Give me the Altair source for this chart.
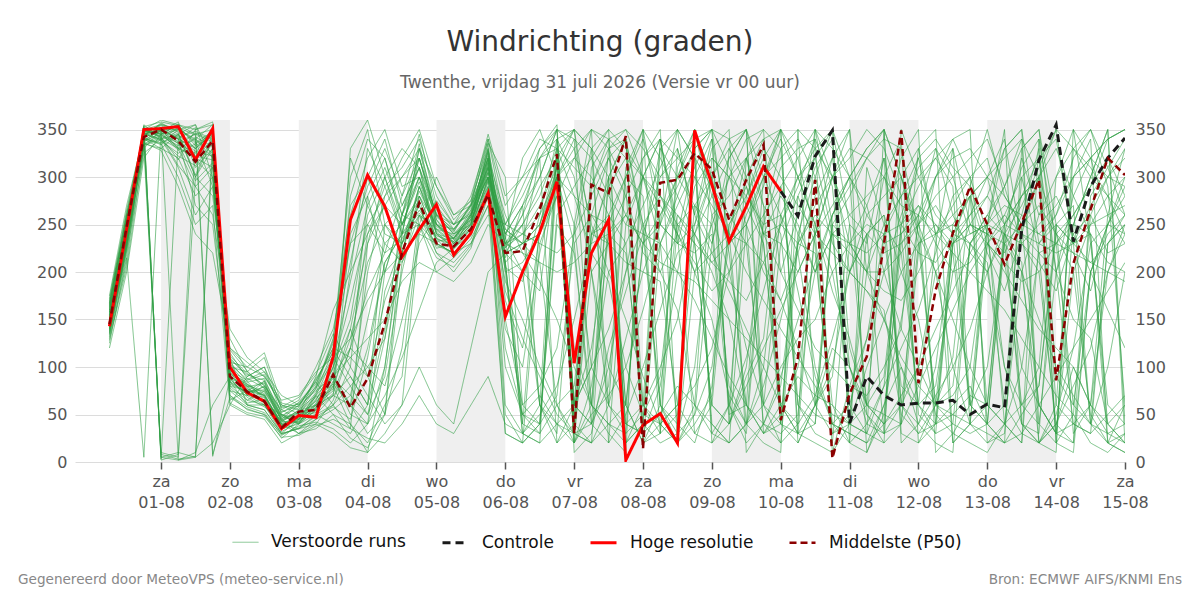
import altair as alt
import pandas as pd

# Tijdas: 6-uurlijkse stappen vanaf vrijdag 31-07 06 uur
starttijd = "2026-07-31 06:00"
stappen = 60
tijden = pd.date_range(starttijd, periods=stappen, freq="6h").strftime("%Y-%m-%dT%H:%M:%S").tolist()

# Hoge resolutie run (loopt tot 10-08 00 uur)
hoge_resolutie = [143, 245, 350, 351, 353, 318, 351, 100, 73, 64,
                  35, 49, 47, 111, 255, 302, 269, 216, 245, 271,
                  218, 241, 283, 153, 200, 242, 295, 104, 220, 255,
                  2, 39, 51, 20, 349, 292, 232, 269, 311, 285]

# Controlerun, vanaf 10-08 00 uur (daarvoor gelijk aan de hoge resolutie)
controle_start = 39
controle = [285, 259, 322, 349, 41, 90, 70, 60, 62, 62,
            65, 50, 61, 57, 245, 318, 355, 232, 290, 320, 341]

# Mediaan van de pluim
middelste = [145, 248, 342, 350, 338, 316, 338, 90, 74, 64,
             36, 53, 55, 92, 57, 88, 146, 220, 273, 230,
             227, 245, 281, 220, 222, 266, 324, 30, 292, 283,
             343, 14, 294, 297, 325, 308, 255, 297, 334, 44,
             110, 297, 4, 72, 111, 230, 349, 83, 181, 241,
             290, 250, 208, 252, 297, 86, 209, 266, 320, 302]

# Verstoorde runs (ensembleleden)
leden = [
    [150, 240, 345, 350, 340, 330, 345, 95, 80, 70, 40, 45, 60, 95, 140, 230, 270, 250, 300, 260,
     240, 260, 310, 220, 250, 280, 330, 60, 40, 300, 340, 20, 60, 310, 350, 280, 240, 320, 340, 200,
     260, 310, 340, 120, 60, 40, 300, 330, 240, 250, 280, 220, 180, 240, 300, 350, 230, 270, 300, 320],
    [155, 250, 350, 355, 345, 300, 330, 100, 70, 60, 35, 50, 55, 70, 60, 120, 210, 240, 330, 250,
     230, 250, 330, 200, 40, 30, 60, 80, 240, 250, 300, 280, 30, 50, 240, 300, 60, 20, 40, 30,
     50, 240, 300, 350, 200, 150, 100, 60, 80, 200, 250, 240, 220, 260, 330, 20, 10, 200, 250, 280],
    [140, 230, 340, 5, 10, 5, 20, 60, 90, 100, 50, 40, 70, 110, 80, 50, 130, 220, 290, 240,
     235, 260, 300, 240, 270, 300, 350, 10, 30, 120, 180, 240, 300, 330, 260, 220, 180, 140, 100, 60,
     30, 20, 10, 80, 130, 200, 260, 310, 330, 260, 220, 200, 250, 310, 340, 90, 60, 40, 30, 20],
    [165, 260, 335, 330, 320, 280, 300, 110, 60, 55, 30, 35, 45, 60, 100, 280, 320, 260, 250, 230,
     220, 240, 290, 210, 230, 250, 300, 330, 350, 340, 320, 300, 280, 240, 200, 150, 70, 40, 20, 10,
     350, 330, 300, 260, 240, 220, 230, 250, 270, 240, 230, 210, 60, 30, 20, 10, 350, 320, 300, 290],
    [130, 210, 350, 345, 355, 350, 355, 80, 75, 85, 45, 30, 35, 50, 40, 20, 60, 90, 250, 300,
     260, 270, 320, 150, 60, 80, 120, 240, 330, 350, 20, 60, 100, 150, 250, 330, 350, 10, 40, 90,
     150, 210, 260, 290, 320, 350, 20, 40, 70, 100, 140, 200, 240, 230, 250, 270, 300, 340, 20, 30],
    [160, 245, 355, 340, 310, 260, 290, 120, 100, 90, 60, 55, 80, 130, 270, 300, 240, 230, 260, 220,
     210, 230, 270, 30, 20, 40, 300, 280, 220, 190, 100, 50, 40, 60, 80, 120, 200, 260, 300, 340,
     300, 250, 200, 100, 40, 30, 60, 100, 200, 230, 240, 250, 240, 200, 150, 100, 70, 40, 100, 200],
    [145, 235, 330, 350, 350, 340, 320, 70, 55, 50, 25, 40, 50, 40, 30, 60, 250, 270, 310, 230,
     220, 240, 280, 230, 240, 260, 340, 300, 200, 60, 40, 30, 80, 200, 290, 320, 300, 280, 250, 260,
     180, 90, 40, 30, 20, 60, 150, 250, 300, 320, 330, 300, 280, 250, 240, 260, 300, 320, 340, 350],
    [170, 265, 345, 10, 5, 300, 340, 90, 65, 75, 45, 60, 85, 120, 110, 90, 170, 220, 280, 250,
     245, 270, 320, 260, 220, 190, 150, 100, 60, 30, 10, 350, 320, 280, 240, 210, 230, 250, 300, 350,
     30, 60, 100, 200, 260, 280, 300, 250, 200, 150, 100, 60, 40, 60, 100, 300, 330, 350, 310, 260],
    [120, 200, 320, 345, 330, 320, 310, 105, 85, 65, 40, 35, 40, 65, 120, 240, 290, 310, 340, 280,
     250, 260, 300, 100, 50, 70, 40, 20, 50, 70, 100, 160, 230, 280, 330, 350, 310, 270, 230, 60,
     40, 70, 130, 200, 240, 260, 200, 150, 50, 30, 20, 10, 40, 200, 260, 280, 240, 200, 160, 120],
    [150, 240, 350, 360, 355, 345, 350, 85, 60, 60, 35, 40, 55, 85, 60, 30, 50, 240, 320, 260,
     240, 250, 310, 230, 250, 290, 320, 60, 290, 330, 350, 300, 250, 230, 300, 340, 50, 60, 300, 320,
     340, 300, 230, 200, 180, 160, 50, 30, 60, 230, 250, 240, 230, 200, 60, 30, 200, 250, 280, 300],
    [135, 225, 340, 335, 300, 250, 270, 60, 50, 45, 20, 30, 40, 30, 15, 10, 30, 60, 100, 60,
     40, 120, 200, 220, 230, 240, 300, 340, 320, 280, 250, 240, 230, 200, 170, 130, 90, 60, 30, 50,
     100, 200, 240, 230, 220, 240, 280, 320, 340, 310, 290, 230, 200, 170, 140, 120, 100, 60, 40, 20],
    [158, 255, 348, 352, 340, 320, 340, 95, 70, 80, 50, 45, 65, 100, 150, 260, 300, 240, 270, 225,
     230, 255, 335, 200, 210, 240, 310, 250, 100, 60, 300, 340, 280, 250, 230, 60, 40, 100, 250, 310,
     330, 340, 290, 100, 50, 20, 350, 300, 260, 240, 60, 100, 230, 250, 270, 240, 220, 180, 250, 290],
    [175, 270, 345, 340, 330, 290, 260, 140, 110, 95, 70, 60, 75, 90, 120, 100, 80, 150, 230, 260,
     250, 280, 340, 250, 280, 320, 350, 40, 20, 60, 130, 200, 250, 300, 340, 20, 60, 110, 180, 250,
     290, 340, 10, 40, 100, 150, 200, 230, 240, 260, 280, 300, 320, 340, 20, 40, 80, 120, 200, 240],
    [125, 215, 5, 350, 330, 340, 355, 75, 60, 55, 30, 45, 50, 70, 90, 60, 200, 260, 300, 240,
     225, 245, 315, 210, 30, 50, 80, 150, 230, 300, 340, 60, 40, 20, 50, 100, 230, 300, 340, 350,
     320, 240, 60, 20, 40, 80, 120, 160, 220, 280, 300, 240, 100, 40, 20, 50, 120, 230, 250, 240],
    [148, 238, 342, 348, 358, 310, 330, 110, 90, 100, 60, 50, 90, 160, 200, 240, 270, 300, 320, 250,
     235, 265, 300, 240, 230, 210, 60, 30, 40, 100, 200, 300, 340, 320, 300, 270, 240, 200, 170, 140,
     110, 80, 50, 40, 60, 90, 250, 290, 320, 340, 350, 20, 40, 100, 220, 230, 260, 290, 340, 350],
    [162, 250, 338, 345, 350, 355, 300, 65, 75, 70, 40, 30, 45, 55, 70, 150, 230, 210, 250, 200,
     215, 235, 270, 140, 100, 220, 300, 320, 300, 260, 230, 270, 310, 350, 320, 290, 260, 230, 210, 170,
     120, 60, 30, 50, 200, 250, 280, 300, 320, 290, 40, 20, 30, 250, 300, 330, 280, 240, 210, 200],
    [138, 228, 352, 5, 2, 10, 60, 90, 80, 60, 50, 40, 60, 80, 40, 10, 100, 240, 330, 290,
     255, 275, 330, 180, 130, 90, 50, 30, 20, 40, 60, 230, 260, 290, 330, 350, 340, 300, 240, 230,
     200, 240, 300, 330, 320, 300, 270, 260, 240, 220, 200, 180, 160, 130, 100, 70, 50, 20, 10, 30],
    [152, 242, 346, 338, 325, 335, 345, 100, 95, 110, 55, 65, 100, 140, 230, 290, 330, 280, 345, 270,
     245, 265, 325, 225, 260, 330, 350, 340, 60, 40, 30, 50, 90, 260, 240, 200, 150, 60, 30, 40,
     280, 320, 350, 300, 260, 230, 240, 60, 30, 40, 230, 260, 290, 330, 350, 250, 230, 210, 230, 250],
    [142, 232, 336, 328, 290, 240, 220, 120, 105, 90, 65, 70, 95, 110, 130, 170, 200, 220, 240, 230,
     220, 230, 260, 250, 240, 230, 220, 240, 280, 320, 340, 250, 200, 160, 60, 40, 20, 40, 80, 150,
     230, 260, 240, 220, 200, 180, 170, 200, 240, 270, 300, 320, 250, 240, 230, 220, 230, 250, 260, 270],
    [168, 258, 344, 356, 348, 330, 350, 80, 65, 60, 30, 35, 50, 60, 80, 100, 130, 260, 310, 255,
     230, 245, 300, 215, 270, 320, 340, 50, 310, 340, 20, 40, 330, 300, 270, 250, 300, 340, 350, 330,
     60, 40, 250, 280, 320, 340, 330, 240, 200, 100, 40, 60, 240, 270, 310, 350, 330, 310, 280, 240],
    [132, 218, 325, 340, 345, 300, 280, 130, 95, 80, 55, 45, 70, 90, 110, 130, 150, 190, 210, 200,
     190, 210, 250, 230, 220, 210, 200, 210, 230, 240, 260, 230, 210, 200, 190, 170, 150, 130, 110, 90,
     70, 50, 40, 30, 20, 40, 70, 100, 140, 180, 220, 250, 270, 260, 240, 230, 220, 210, 200, 190],
    [155, 248, 350, 342, 312, 290, 310, 75, 70, 85, 35, 50, 60, 75, 330, 360, 300, 250, 280, 235,
     228, 250, 305, 250, 290, 330, 355, 20, 60, 240, 280, 320, 350, 20, 40, 70, 330, 350, 300, 260,
     220, 100, 40, 60, 130, 240, 320, 350, 10, 30, 60, 250, 290, 340, 300, 240, 200, 50, 20, 10],
    [146, 236, 347, 354, 342, 348, 340, 85, 72, 68, 42, 55, 70, 50, 25, 15, 50, 120, 260, 245,
     240, 255, 290, 50, 20, 40, 70, 230, 260, 250, 40, 30, 50, 80, 60, 30, 20, 40, 60, 100,
     130, 150, 200, 230, 250, 240, 80, 60, 40, 50, 70, 60, 250, 280, 300, 60, 40, 30, 50, 70],
    [160, 252, 340, 330, 345, 355, 320, 115, 88, 78, 48, 42, 58, 100, 170, 250, 280, 300, 330, 265,
     250, 270, 340, 270, 300, 340, 330, 310, 290, 340, 350, 330, 300, 320, 340, 350, 40, 80, 120, 160,
     200, 240, 270, 300, 330, 350, 30, 20, 40, 60, 80, 40, 20, 30, 60, 90, 120, 150, 180, 210],
    [128, 205, 330, 8, 3, 6, 340, 70, 58, 52, 28, 38, 42, 35, 20, 40, 180, 230, 270, 220,
     200, 225, 280, 220, 200, 180, 320, 20, 80, 200, 230, 40, 20, 30, 100, 260, 280, 320, 270, 40,
     20, 60, 120, 100, 60, 40, 60, 230, 250, 230, 250, 280, 330, 350, 40, 20, 330, 300, 280, 260],
    [150, 244, 352, 348, 335, 325, 352, 92, 82, 72, 38, 48, 52, 80, 130, 210, 250, 230, 290, 250,
     238, 258, 318, 235, 200, 60, 40, 30, 200, 230, 260, 300, 340, 250, 200, 220, 240, 230, 60, 20,
     40, 350, 330, 300, 270, 200, 140, 100, 60, 40, 30, 40, 60, 300, 320, 200, 150, 130, 40, 20],
    [172, 262, 349, 345, 356, 318, 300, 105, 100, 115, 62, 58, 88, 115, 260, 320, 350, 290, 300, 245,
     232, 262, 328, 245, 230, 240, 280, 320, 350, 20, 50, 100, 160, 220, 240, 280, 320, 350, 30, 60,
     90, 70, 60, 40, 30, 20, 40, 80, 120, 160, 200, 230, 210, 100, 60, 30, 20, 280, 310, 340],
    [140, 230, 338, 350, 340, 270, 250, 98, 78, 62, 32, 42, 62, 90, 50, 40, 70, 110, 160, 210,
     225, 240, 300, 120, 50, 30, 320, 350, 330, 300, 60, 20, 40, 60, 270, 300, 330, 290, 240, 200,
     160, 120, 100, 80, 70, 100, 140, 330, 350, 20, 40, 230, 260, 240, 220, 200, 250, 300, 350, 20],
    [157, 247, 344, 352, 352, 336, 348, 88, 68, 58, 44, 52, 78, 105, 190, 270, 310, 260, 320, 260,
     245, 268, 310, 205, 190, 260, 300, 60, 40, 80, 310, 350, 250, 230, 220, 240, 60, 30, 240, 280,
     250, 200, 240, 260, 280, 300, 250, 220, 210, 240, 260, 300, 340, 230, 210, 180, 240, 260, 220, 230],
    [134, 222, 334, 342, 318, 350, 358, 62, 52, 48, 26, 28, 38, 45, 35, 25, 20, 40, 70, 40,
     30, 60, 90, 40, 30, 20, 40, 60, 100, 140, 200, 250, 280, 260, 230, 210, 190, 170, 210, 250,
     300, 330, 350, 20, 10, 60, 100, 40, 20, 10, 230, 260, 240, 210, 20, 40, 100, 60, 30, 40],
    [147, 240, 348, 346, 328, 342, 332, 108, 92, 86, 52, 62, 82, 125, 210, 300, 340, 270, 310, 240,
     226, 248, 296, 230, 260, 300, 350, 330, 250, 200, 150, 90, 40, 20, 60, 320, 300, 250, 200, 170,
     220, 280, 320, 350, 10, 50, 230, 260, 300, 330, 250, 230, 210, 190, 200, 230, 250, 240, 20, 10],
    [163, 254, 341, 334, 350, 322, 318, 78, 62, 66, 36, 46, 66, 88, 70, 50, 90, 200, 280, 235,
     215, 242, 285, 190, 150, 100, 60, 20, 240, 290, 320, 250, 60, 40, 20, 80, 250, 280, 330, 300,
     270, 240, 220, 200, 180, 150, 110, 80, 60, 50, 40, 30, 20, 50, 80, 240, 260, 290, 320, 280],
    [137, 226, 343, 357, 347, 302, 345, 96, 86, 92, 58, 68, 92, 135, 100, 70, 40, 60, 240, 275,
     250, 262, 312, 240, 270, 60, 20, 40, 260, 320, 280, 220, 200, 240, 320, 30, 60, 280, 320, 350,
     300, 250, 180, 130, 60, 240, 250, 270, 230, 200, 210, 240, 260, 300, 220, 30, 40, 60, 200, 250],
    [153, 246, 354, 2, 8, 340, 325, 82, 74, 76, 46, 52, 68, 82, 60, 200, 280, 320, 350, 290,
     260, 275, 345, 280, 300, 320, 330, 280, 260, 230, 210, 200, 190, 60, 30, 20, 40, 90, 130, 290,
     320, 350, 300, 230, 200, 200, 220, 250, 280, 300, 320, 340, 290, 230, 200, 40, 20, 200, 250, 300],
    [144, 234, 339, 349, 337, 345, 337, 90, 77, 71, 41, 47, 57, 72, 120, 180, 220, 235, 265, 238,
     232, 252, 308, 210, 50, 40, 260, 290, 320, 350, 330, 300, 270, 240, 210, 180, 200, 230, 260, 290,
     240, 200, 260, 300, 330, 350, 300, 240, 60, 80, 230, 200, 100, 60, 40, 200, 280, 320, 340, 350],
    [166, 256, 347, 339, 322, 312, 335, 102, 82, 68, 38, 44, 72, 98, 280, 340, 320, 250, 275, 232,
     236, 256, 322, 226, 240, 270, 310, 120, 60, 40, 20, 40, 260, 300, 350, 300, 220, 60, 40, 80,
     230, 270, 300, 320, 350, 330, 280, 50, 30, 230, 260, 280, 250, 40, 20, 60, 300, 320, 260, 230],
    [158, 244, 351, 3, 340, 352, 6, 88, 79, 83, 43, 51, 73, 118, 90, 60, 140, 250, 300, 250,
     234, 252, 318, 170, 120, 240, 300, 30, 20, 260, 300, 350, 60, 20, 200, 250, 80, 40, 100, 260,
     300, 320, 240, 60, 30, 80, 240, 270, 250, 220, 60, 40, 230, 280, 300, 20, 50, 260, 300, 330],
    [149, 239, 345, 355, 351, 338, 290, 118, 96, 77, 49, 57, 77, 128, 300, 350, 250, 220, 290, 242,
     226, 260, 327, 60, 30, 20, 330, 350, 200, 100, 60, 230, 250, 350, 320, 40, 20, 250, 290, 350,
     20, 60, 250, 230, 200, 300, 340, 20, 60, 110, 280, 300, 230, 60, 80, 250, 230, 40, 20, 60],
    [139, 229, 337, 347, 331, 321, 347, 93, 84, 88, 47, 63, 84, 60, 35, 230, 300, 330, 310, 262,
     243, 270, 305, 220, 230, 320, 20, 60, 120, 240, 220, 60, 30, 250, 270, 230, 320, 350, 270, 240,
     60, 30, 20, 230, 270, 320, 60, 40, 100, 240, 280, 60, 40, 20, 230, 260, 320, 350, 290, 60],
    [167, 259, 343, 351, 2, 5, 330, 87, 71, 63, 39, 49, 64, 77, 140, 90, 50, 210, 260, 228,
     220, 238, 295, 235, 320, 350, 300, 230, 40, 20, 250, 300, 230, 40, 350, 260, 200, 120, 60, 40,
     240, 300, 350, 250, 60, 50, 40, 220, 300, 340, 300, 40, 20, 330, 350, 200, 40, 30, 230, 250],
    [143, 233, 341, 336, 344, 330, 346, 97, 81, 74, 44, 54, 60, 70, 240, 280, 200, 260, 335, 255,
     235, 258, 320, 240, 40, 250, 310, 350, 330, 60, 30, 320, 340, 240, 30, 60, 250, 290, 230, 40,
     30, 250, 320, 200, 240, 30, 40, 260, 330, 300, 240, 250, 40, 20, 340, 230, 60, 200, 240, 260],
    [151, 243, 349, 343, 333, 346, 339, 91, 76, 70, 37, 43, 56, 92, 60, 40, 100, 230, 285, 248,
     236, 254, 304, 228, 250, 60, 30, 250, 350, 330, 290, 20, 30, 330, 260, 340, 240, 40, 260, 330,
     350, 60, 90, 250, 230, 320, 240, 260, 40, 230, 290, 350, 280, 250, 60, 30, 250, 300, 350, 40],
    [136, 224, 333, 340, 352, 344, 8, 68, 56, 50, 29, 36, 48, 58, 45, 110, 210, 240, 250, 215,
     205, 228, 288, 30, 20, 230, 280, 60, 100, 330, 340, 240, 60, 30, 50, 230, 300, 320, 350, 60,
     30, 40, 260, 300, 50, 30, 250, 320, 240, 20, 40, 250, 330, 350, 230, 250, 30, 60, 260, 330],
    [164, 257, 346, 349, 341, 327, 322, 112, 93, 81, 53, 59, 86, 120, 230, 250, 220, 280, 320, 258,
     242, 272, 336, 300, 60, 40, 250, 220, 60, 300, 260, 230, 330, 350, 230, 60, 40, 320, 240, 250,
     230, 220, 40, 20, 310, 250, 220, 60, 230, 330, 60, 40, 240, 320, 260, 300, 350, 230, 60, 40],
    [141, 231, 335, 344, 336, 296, 315, 84, 73, 79, 43, 41, 54, 83, 200, 330, 290, 240, 262, 236,
     224, 246, 298, 245, 230, 250, 320, 40, 240, 260, 60, 20, 230, 270, 310, 350, 230, 250, 40, 20,
     230, 350, 250, 40, 30, 350, 300, 230, 60, 70, 100, 230, 250, 280, 320, 340, 230, 240, 40, 60],
    [154, 247, 353, 358, 354, 333, 343, 103, 87, 95, 57, 61, 79, 110, 320, 270, 230, 250, 295, 244,
     230, 250, 315, 210, 30, 60, 340, 350, 240, 230, 40, 60, 340, 230, 250, 300, 340, 350, 60, 230,
     280, 230, 30, 40, 240, 260, 60, 30, 40, 250, 230, 250, 350, 40, 30, 250, 270, 40, 230, 260],
]

# Om de dag een grijze achtergrondband
band_begin = ["2026-08-01T00:00:00", "2026-08-03T00:00:00", "2026-08-05T00:00:00", "2026-08-07T00:00:00",
              "2026-08-09T00:00:00", "2026-08-11T00:00:00", "2026-08-13T00:00:00"]
band_eind = ["2026-08-02T00:00:00", "2026-08-04T00:00:00", "2026-08-06T00:00:00", "2026-08-08T00:00:00",
             "2026-08-10T00:00:00", "2026-08-12T00:00:00", "2026-08-14T00:00:00"]

y_ticks = [0, 50, 100, 150, 200, 250, 300, 350]
dag_ticks = [alt.DateTime(year=2026, month=8, date=d) for d in range(1, 16)]
dagnamen = ["zo", "ma", "di", "wo", "do", "vr", "za"]

series = ["Verstoorde runs", "Controle", "Hoge resolutie", "Middelste (P50)"]
kleuren = ["#2e9e44", "#1a1a1a", "#ff0000", "#8b0000"]
streepjes = [[1, 0], [8, 5], [1, 0], [7, 4]]
diktes = [1, 3, 3, 2.5]
doorzicht = [0.62, 1, 1, 1]

# ---- tabellen ----
ens_rows = []
for n, lid in enumerate(leden):
    for t, v in zip(tijden, lid):
        ens_rows.append({"tijd": t, "graden": v, "lid": n + 1, "serie": series[0]})
ens_df = pd.DataFrame(ens_rows)
ctl_df = pd.DataFrame({"tijd": tijden[controle_start:], "graden": controle, "serie": series[1]})
hr_df = pd.DataFrame({"tijd": tijden[:len(hoge_resolutie)], "graden": hoge_resolutie, "serie": series[2]})
p50_df = pd.DataFrame({"tijd": tijden, "graden": middelste, "serie": series[3]})
band_df = pd.DataFrame({"begin": band_begin, "eind": band_eind, "onder": 0, "boven": 360})

# ---- schalen en assen ----
x_schaal = alt.Scale(domain=[alt.DateTime(year=2026, month=7, date=30, hours=18),
                             alt.DateTime(year=2026, month=8, date=15)])
y_schaal = alt.Scale(domain=[0, 360], nice=False)

x_as = alt.Axis(values=dag_ticks, title=None, grid=False, domain=False, labelOverlap=False,
                labelFlush=False, labelBound=False,
                labelExpr="[" + str(dagnamen) + "[day(datum.value)], timeFormat(datum.value, '%d-%m')]",
                labelFontSize=16, labelColor="#555555", labelLineHeight=21, labelPadding=4,
                tickColor="#555555", tickSize=7, tickWidth=1.5)
y_links = alt.Axis(values=y_ticks, title=None, ticks=False, domain=False, grid=True,
                   gridColor="#dcdcdc", gridWidth=1, labelFontSize=16, labelColor="#555555",
                   labelPadding=8)
y_rechts = alt.Axis(values=y_ticks, title=None, ticks=False, domain=False, grid=False,
                    orient="right", labelFontSize=16, labelColor="#555555", labelPadding=10)

legenda = alt.Legend(title=None, orient="none", legendX=157, legendY=408, direction="horizontal",
                     symbolType="stroke", symbolSize=676, labelFontSize=17, labelColor="#111111",
                     labelOffset=12, columnPadding=30)


def stijl():
    return dict(
        color=alt.Color("serie:N", scale=alt.Scale(type="ordinal", domain=series, range=kleuren),
                        legend=legenda),
        strokeDash=alt.StrokeDash("serie:N", scale=alt.Scale(type="ordinal", domain=series, range=streepjes),
                                  legend=legenda),
        strokeWidth=alt.StrokeWidth("serie:N", scale=alt.Scale(type="ordinal", domain=series, range=diktes),
                                    legend=legenda),
        opacity=alt.Opacity("serie:N", scale=alt.Scale(type="ordinal", domain=series, range=doorzicht),
                            legend=legenda),
    )


banden = alt.Chart(band_df).mark_rect(color="#efefef").encode(
    x=alt.X("begin:T", scale=x_schaal, axis=x_as),
    x2="eind:T",
    y=alt.Y("onder:Q", scale=y_schaal, axis=None),
    y2="boven:Q",
)

ensemble = alt.Chart(ens_df).mark_line(clip=True).encode(
    x=alt.X("tijd:T", scale=x_schaal, axis=x_as),
    y=alt.Y("graden:Q", scale=y_schaal, axis=y_links),
    detail="lid:N",
    **stijl(),
)

ctl = alt.Chart(ctl_df).mark_line(clip=True).encode(
    x=alt.X("tijd:T", scale=x_schaal, axis=x_as),
    y=alt.Y("graden:Q", scale=y_schaal, axis=y_rechts),
    **stijl(),
)

hr = alt.Chart(hr_df).mark_line(clip=True).encode(
    x=alt.X("tijd:T", scale=x_schaal, axis=x_as),
    y=alt.Y("graden:Q", scale=y_schaal, axis=None),
    **stijl(),
)

p50 = alt.Chart(p50_df).mark_line(clip=True).encode(
    x=alt.X("tijd:T", scale=x_schaal, axis=x_as),
    y=alt.Y("graden:Q", scale=y_schaal, axis=None),
    **stijl(),
)

voet_links = alt.Chart(pd.DataFrame({"tekst": ["Gegenereerd door MeteoVPS (meteo-service.nl)"]})).mark_text(
    align="left", baseline="middle", fontSize=13.6, color="#888888"
).encode(text="tekst:N", x=alt.value(-57), y=alt.value(460))

voet_rechts = alt.Chart(pd.DataFrame({"tekst": ["Bron: ECMWF AIFS/KNMI Ens"]})).mark_text(
    align="right", baseline="middle", fontSize=13.6, color="#888888"
).encode(text="tekst:N", x=alt.value(1107), y=alt.value(460))

chart = alt.layer(banden, ensemble, ctl, hr, p50, voet_links, voet_rechts).resolve_axis(
    y="independent"
).properties(
    width=1050,
    height=342,
    padding={"left": 75, "top": 120, "right": 75, "bottom": 138},
    autosize=alt.AutoSizeParams(type="none"),
    title=alt.Title(
        text="Windrichting (graden)",
        subtitle="Twenthe, vrijdag 31 juli 2026 (Versie vr 00 uur)",
        anchor="middle", fontSize=28, fontWeight="normal", color="#333333",
        subtitleFontSize=17, subtitleColor="#666666", subtitlePadding=18, offset=29,
    ),
).configure(font="DejaVu Sans").configure_view(strokeWidth=0)

chart.save("out.html", embed_options={"renderer": "svg", "actions": False})
